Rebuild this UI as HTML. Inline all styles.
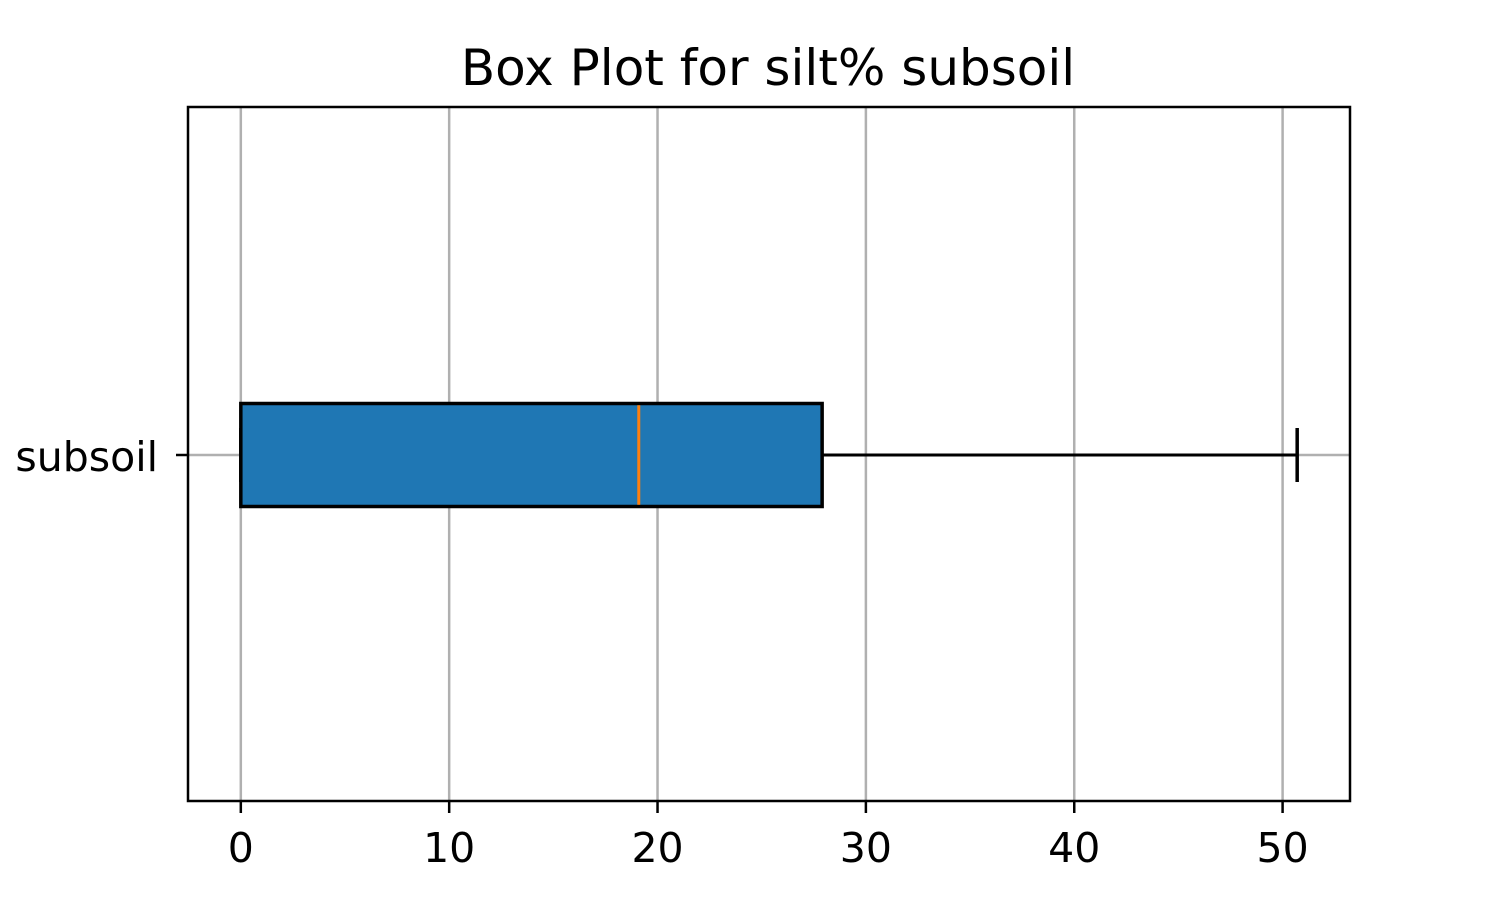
<!DOCTYPE html>
<html><head><meta charset="utf-8"><style>
html,body{margin:0;padding:0;background:#fff;}
svg{display:block;font-family:"DejaVu Sans","Liberation Sans",sans-serif;}
</style></head><body>
<svg id="chart" width="1500" height="900" viewBox="0 0 1500 900"></svg>
<script>
const categories = ["subsoil"];
const q1Values = [0];
const q3Values = [27.9];
const medianValues = [19.1];
const whiskerLow = [0];
const whiskerHigh = [50.7];
const xTicks = [0, 10, 20, 30, 40, 50];

const svg = document.getElementById('chart');
const NS = 'http://www.w3.org/2000/svg';
const L = 188, R = 1350, T = 107, B = 801;
const xMin = -2.535, xMax = 53.235;
const xs = v => L + (v - xMin) / (xMax - xMin) * (R - L);
const yc = i => (T + B) / 2 + 1 + i * 0;
function mk(tag, attrs, name) {
  const e = document.createElementNS(NS, tag);
  for (const k in attrs) e.setAttribute(k, attrs[k]);
  
  
  svg.appendChild(e);
  return e;
}
const title = mk('text', {x: 768, y: 85, 'text-anchor': 'middle', 'font-size': 50, fill: '#000'}, 'chart-title');
title.textContent = 'Box Plot for silt% subsoil';
xTicks.forEach(t => {
  const x = xs(t);
  mk('line', {x1: x, x2: x, y1: T, y2: B, stroke: '#b0b0b0', 'stroke-width': 2.5}, 'x-gridline');
  mk('line', {x1: x, x2: x, y1: B, y2: B + 12, stroke: '#000', 'stroke-width': 2.5}, 'x-tick');
  const tx = mk('text', {x: x, y: B + 61, 'text-anchor': 'middle', 'font-size': 41, fill: '#000'}, 'x-tick-label');
  tx.textContent = t;
});
categories.forEach((c, i) => {
  const y = yc(i);
  mk('line', {x1: L, x2: R, y1: y, y2: y, stroke: '#b0b0b0', 'stroke-width': 2.5}, 'y-gridline');
  mk('line', {x1: L - 12, x2: L, y1: y, y2: y, stroke: '#000', 'stroke-width': 2.5}, 'y-tick');
  const ty = mk('text', {x: L - 30, y: y + 16, 'text-anchor': 'end', 'font-size': 41, fill: '#000'}, 'y-tick-label');
  ty.textContent = c;
  const h = 103;
  mk('line', {x1: xs(whiskerLow[i]), x2: xs(q1Values[i]), y1: y, y2: y, stroke: '#000', 'stroke-width': 3}, 'lower-whisker');
  mk('line', {x1: xs(q3Values[i]), x2: xs(whiskerHigh[i]), y1: y, y2: y, stroke: '#000', 'stroke-width': 3}, 'upper-whisker');
  mk('line', {x1: xs(whiskerHigh[i]), x2: xs(whiskerHigh[i]), y1: y - 27, y2: y + 27, stroke: '#000', 'stroke-width': 3.5}, 'upper-cap');
  mk('line', {x1: xs(whiskerLow[i]), x2: xs(whiskerLow[i]), y1: y - 27, y2: y + 27, stroke: '#000', 'stroke-width': 3.5}, 'lower-cap');
  mk('rect', {x: xs(q1Values[i]), y: y - h / 2, width: xs(q3Values[i]) - xs(q1Values[i]), height: h, fill: '#1f77b4', stroke: '#000', 'stroke-width': 3.5}, 'box');
  mk('line', {x1: xs(medianValues[i]), x2: xs(medianValues[i]), y1: y - h / 2 + 1.75, y2: y + h / 2 - 1.75, stroke: '#ff7f0e', 'stroke-width': 3}, 'median-line');
});
mk('rect', {x: L, y: T, width: R - L, height: B - T, fill: 'none', stroke: '#000', 'stroke-width': 2.5}, 'plot-frame');
</script>
</body></html>
